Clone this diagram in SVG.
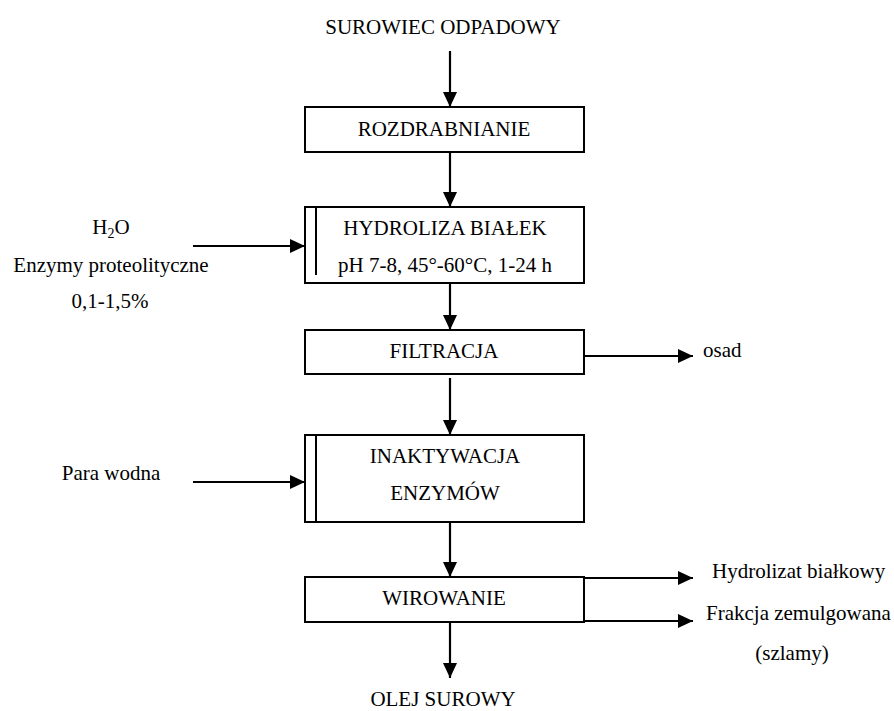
<svg xmlns="http://www.w3.org/2000/svg" width="894" height="711" viewBox="0 0 894 711">
  <style>
    .t { font-family: 'Liberation Serif', 'DejaVu Serif', serif; font-size: 21px; fill: #000; }
    .c { text-anchor: middle; }
    .box { fill: #fff; stroke: #000; stroke-width: 2; }
    .edge { fill: none; stroke: #000; stroke-width: 2.2; }
    .sub { font-size: 14px; }
  </style>
  <defs>
    <marker id="arrow" markerUnits="userSpaceOnUse" markerWidth="16" markerHeight="14" refX="15" refY="7" orient="auto">
      <path d="M0,0 L15,7 L0,14 Z" fill="#000"/>
    </marker>
  </defs>

  <!-- process flow connectors -->
  <g id="connectors">
    <path class="edge" d="M450,51 V107" marker-end="url(#arrow)"/>
    <path class="edge" d="M450,152 V207" marker-end="url(#arrow)"/>
    <path class="edge" d="M193,246 H305" marker-end="url(#arrow)"/>
    <path class="edge" d="M450,283 V330" marker-end="url(#arrow)"/>
    <path class="edge" d="M584,356 H693" marker-end="url(#arrow)"/>
    <path class="edge" d="M450,378 V435" marker-end="url(#arrow)"/>
    <path class="edge" d="M193,482 H305" marker-end="url(#arrow)"/>
    <path class="edge" d="M450,522 V577" marker-end="url(#arrow)"/>
    <path class="edge" d="M584,578 H693" marker-end="url(#arrow)"/>
    <path class="edge" d="M584,621 H693" marker-end="url(#arrow)"/>
    <path class="edge" d="M450,622 V678" marker-end="url(#arrow)"/>
  </g>

  <g class="t" font-family="'Liberation Serif', 'DejaVu Serif', serif">
    <!-- input / output labels -->
    <g id="raw-material">
      <text class="c" x="443" y="34">SUROWIEC ODPADOWY</text>
    </g>
    <g id="hydrolysis-inputs">
      <text class="c" x="111" y="234">H<tspan class="sub" dy="4">2</tspan><tspan dy="-4">O</tspan></text>
      <text class="c" x="111" y="272">Enzymy proteolityczne</text>
      <text class="c" x="110" y="308">0,1-1,5%</text>
    </g>
    <g id="steam-input">
      <text class="c" x="111" y="480">Para wodna</text>
    </g>
    <g id="sediment">
      <text x="703" y="357">osad</text>
    </g>
    <g id="hydrolysate">
      <text x="712" y="578">Hydrolizat białkowy</text>
    </g>
    <g id="emulsion-fraction">
      <text x="706" y="620">Frakcja zemulgowana</text>
      <text class="c" x="792" y="660">(szlamy)</text>
    </g>
    <g id="crude-oil">
      <text class="c" x="443" y="706">OLEJ SUROWY</text>
    </g>

    <!-- process steps -->
    <g id="grinding">
      <rect class="box" x="305" y="107" width="279" height="45"/>
      <text class="c" x="444" y="136">ROZDRABNIANIE</text>
    </g>
    <g id="protein-hydrolysis">
      <rect class="box" x="305" y="207" width="279" height="76"/>
      <line x1="316" y1="207" x2="316" y2="275" stroke="#000" stroke-width="2"/>
      <text class="c" x="445" y="235">HYDROLIZA BIAŁEK</text>
      <text class="c" x="445" y="272">pH 7-8, 45°-60°C, 1-24 h</text>
    </g>
    <g id="filtration">
      <rect class="box" x="305" y="330" width="279" height="44"/>
      <text class="c" x="444" y="358">FILTRACJA</text>
    </g>
    <g id="enzyme-inactivation">
      <rect class="box" x="305" y="435" width="279" height="87"/>
      <line x1="316" y1="435" x2="316" y2="522" stroke="#000" stroke-width="2"/>
      <text class="c" x="445" y="463">INAKTYWACJA</text>
      <text class="c" x="445" y="500">ENZYMÓW</text>
    </g>
    <g id="centrifugation">
      <rect class="box" x="305" y="577" width="279" height="45"/>
      <text class="c" x="444" y="605">WIROWANIE</text>
    </g>
  </g>
</svg>
